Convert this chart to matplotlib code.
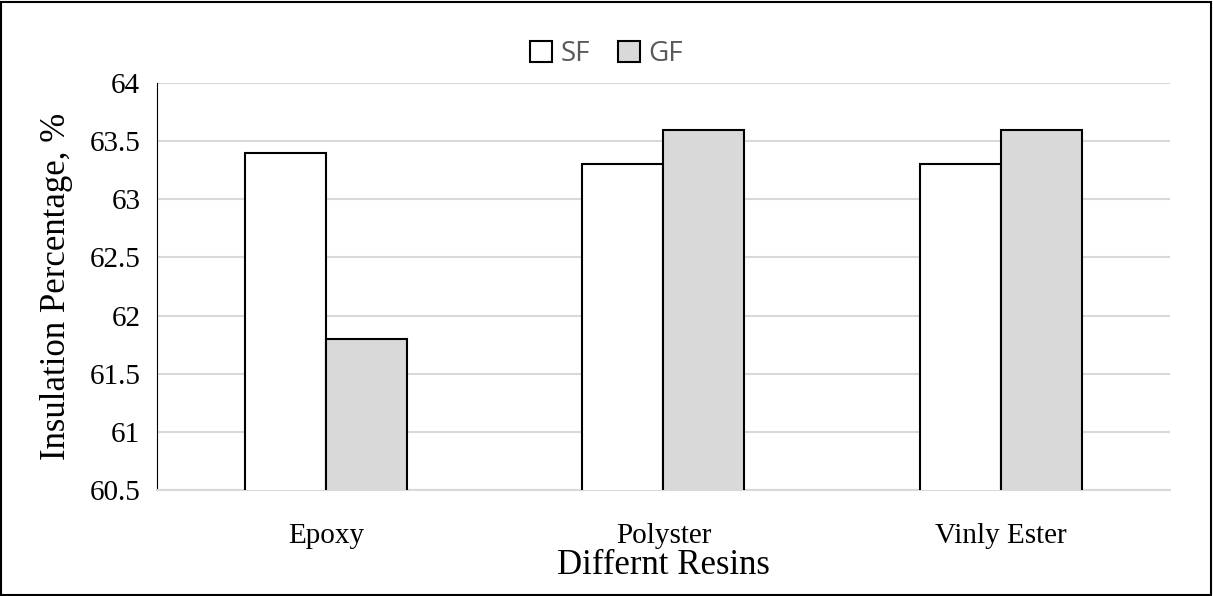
import matplotlib
matplotlib.use("Agg")
import matplotlib.pyplot as plt
import numpy as np

categories = ["Epoxy", "Polyster", "Vinly Ester"]
sf = [63.4, 63.3, 63.3]
gf = [61.8, 63.6, 63.6]

fig = plt.figure(figsize=(12.13, 5.96), dpi=100)
ax = fig.add_axes([0.1294, 0.1779, 0.8351, 0.6828])
x = np.arange(len(categories))
w = 0.24
ax.bar(x - w/2, sf, w, color="white", edgecolor="black", linewidth=1.5, label="SF", zorder=3)
ax.bar(x + w/2, gf, w, color="#d9d9d9", edgecolor="black", linewidth=1.5, label="GF", zorder=3)
ax.set_ylim(60.5, 64)
ax.set_xlim(-0.5, 2.5)
ax.set_yticks(np.arange(60.5, 64.01, 0.5))
ax.set_yticklabels(["60.5", "61", "61.5", "62", "62.5", "63", "63.5", "64"])
ax.grid(axis="y", color="#d9d9d9", linewidth=1.5, zorder=0)
ax.set_xticks(x)
ax.set_xticklabels(categories)
for s in ["top", "right"]:
    ax.spines[s].set_visible(False)
ax.spines["left"].set_color("black")
ax.spines["bottom"].set_color("#d9d9d9")
ax.spines["bottom"].set_linewidth(1.5)
ax.tick_params(axis="y", length=0, labelsize=21, pad=12)
ax.tick_params(axis="x", length=0, labelsize=21, pad=24)
for t in ax.get_xticklabels() + ax.get_yticklabels():
    t.set_fontfamily("Liberation Serif")
ax.set_ylabel("Insulation Percentage, %", fontsize=25, fontfamily="Liberation Serif", labelpad=12)
ax.set_xlabel("Differnt Resins", fontsize=25, fontfamily="Liberation Serif", labelpad=0)
leg = fig.legend(loc="upper center", bbox_to_anchor=(0.5, 0.975), ncol=2, frameon=False,
                 prop={"family": "Open Sans", "size": 20}, handlelength=0.8, handleheight=0.8,
                 columnspacing=1.0, handletextpad=0.3)
for t in leg.get_texts():
    t.set_color("#595959")
fig.patches.append(plt.Rectangle((0.001, 0.002), 0.997, 0.995, transform=fig.transFigure,
                                 fill=False, edgecolor="black", linewidth=1.5))
fig.savefig("out.png", dpi=100)
